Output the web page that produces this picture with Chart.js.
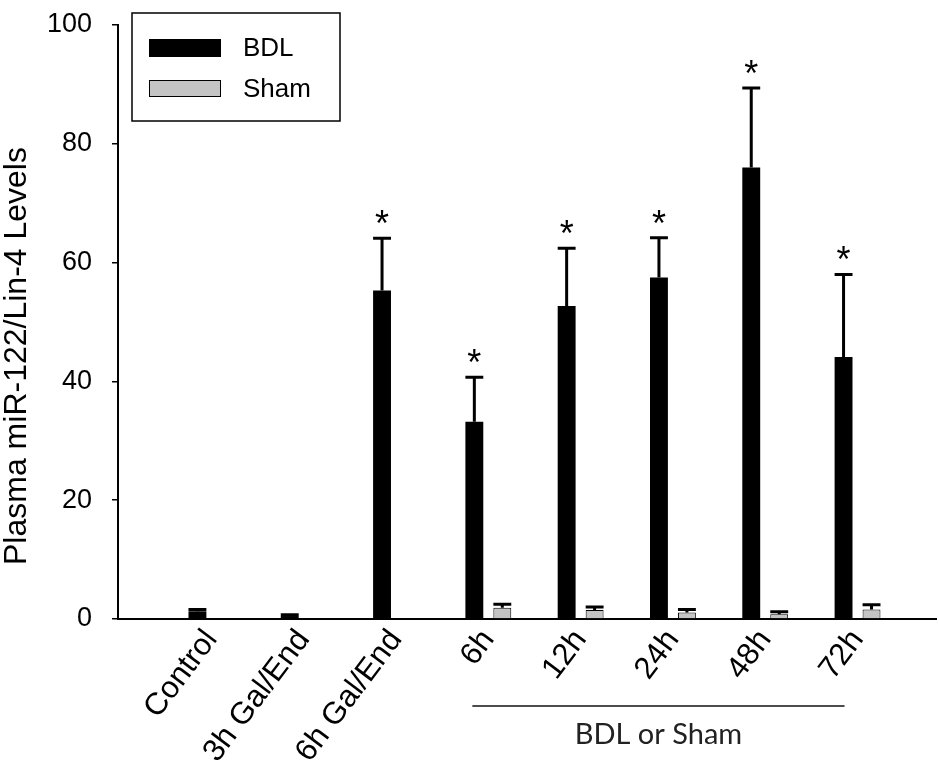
<!DOCTYPE html>
<html>
<head>
<meta charset="utf-8">
<script src="https://cdn.jsdelivr.net/npm/chart.js@4.4.1/dist/chart.umd.min.js"></script>
<style>
  html, body { margin: 0; padding: 0; background: #fff; }
</style>
</head>
<body>
<canvas id="chart" width="939" height="772"></canvas>
<script>
// group labels along the x axis
const groups = ["Control", "3h Gal/End", "6h Gal/End", "6h", "12h", "24h", "48h", "72h"];

// BDL means and upper error
const bdlMean = [1.3, 0.5, 55.3, 33.2, 52.7, 57.5, 76.0, 44.1];
const bdlErr = [0.3, 0.2, 8.8, 7.5, 9.7, 6.7, 13.4, 13.9];
const bdlSig = [false, false, true, true, true, true, true, true];

// Sham only exists for the timed groups
const shamMean = [null, null, null, 1.9, 1.5, 1.1, 0.8, 1.6];
const shamErr = [null, null, null, 0.6, 0.5, 0.5, 0.4, 0.8];

const yTicks = [0, 20, 40, 60, 80, 100];
const yTitle = "Plasma miR-122/Lin-4 Levels";

const shamColor = "#c4c4c4";
const fontFamily = '"Liberation Sans", Arial, sans-serif';

const extras = {
  id: "extras",
  afterDatasetsDraw(chart) {
    const { ctx, scales: { y } } = chart;
    const errs = [bdlErr, shamErr];
    ctx.save();
    chart.data.datasets.forEach((ds, di) => {
      const meta = chart.getDatasetMeta(di);
      meta.data.forEach((bar, i) => {
        const v = ds.data[i].y;
        const e = errs[di][i];
        if (v == null || e == null) return;
        const top = y.getPixelForValue(v + e);
        ctx.strokeStyle = "#000";
        ctx.lineWidth = 3;
        ctx.beginPath();
        ctx.moveTo(bar.x, bar.y);
        ctx.lineTo(bar.x, top);
        ctx.moveTo(bar.x - bar.width / 2, top);
        ctx.lineTo(bar.x + bar.width / 2, top);
        ctx.stroke();
        if (di === 0 && bdlSig[i]) {
          ctx.fillStyle = "#000";
          ctx.font = "36px " + fontFamily;
          ctx.textAlign = "center";
          ctx.textBaseline = "alphabetic";
          ctx.fillText("*", bar.x, top - 2);
        }
      });
    });
    ctx.restore();
  },
  afterDraw(chart) {
    const { ctx, chartArea, scales: { x } } = chart;
    ctx.save();

    // y title, sitting a little below the axis middle as in the original
    ctx.fillStyle = "#000";
    ctx.font = "32px " + fontFamily;
    ctx.textAlign = "center";
    ctx.textBaseline = "middle";
    ctx.translate(17, (chartArea.top + chartArea.bottom) / 2 + 34);
    ctx.rotate(-Math.PI / 2);
    ctx.fillText(yTitle, 0, 0);
    ctx.setTransform(1, 0, 0, 1, 0, 0);

    // legend box inside the plot
    const lx = chartArea.left + 14, ly = chartArea.top - 12;
    ctx.strokeStyle = "#000";
    ctx.lineWidth = 1.5;
    ctx.strokeRect(lx, ly, 208, 108);
    ctx.fillStyle = "#000";
    ctx.fillRect(lx + 17, ly + 26, 72, 18);
    ctx.fillStyle = shamColor;
    ctx.fillRect(lx + 17, ly + 67, 72, 17);
    ctx.lineWidth = 1;
    ctx.strokeRect(lx + 17.5, ly + 67.5, 71, 16);
    ctx.fillStyle = "#000";
    ctx.font = "26px " + fontFamily;
    ctx.textAlign = "left";
    ctx.textBaseline = "middle";
    ctx.fillText("BDL", lx + 111, ly + 36);
    ctx.fillText("Sham", lx + 111, ly + 77);

    // bracket under the BDL / Sham time points
    const x0 = x.getPixelForValue(3) - 16;
    const x1 = x.getPixelForValue(7) - 13;
    const by = chartArea.bottom + 87;
    ctx.strokeStyle = "#111";
    ctx.lineWidth = 1.5;
    ctx.beginPath();
    ctx.moveTo(x0, by);
    ctx.lineTo(x1, by);
    ctx.stroke();
    ctx.fillStyle = "#222";
    ctx.font = '29px Lato, "Open Sans", sans-serif';
    ctx.textAlign = "center";
    ctx.fillText("BDL or Sham", (x0 + x1) / 2, by + 29);
    ctx.restore();
  }
};

new Chart(document.getElementById("chart"), {
  type: "bar",
  data: {
    datasets: [
      {
        label: "BDL",
        data: bdlMean.map((v, i) => ({ x: i, y: v })),
        backgroundColor: "#000",
        borderColor: "#000",
        borderWidth: 0,
        categoryPercentage: 0.606,
        barPercentage: 0.64
      },
      {
        label: "Sham",
        data: shamMean.map((v, i) => ({ x: i, y: v })),
        backgroundColor: shamColor,
        borderColor: "#000",
        borderWidth: 1,
        categoryPercentage: 0.606,
        barPercentage: 0.64
      }
    ]
  },
  options: {
    responsive: false,
    animation: false,
    layout: { padding: { top: 25, right: 3, left: 0, bottom: 0 } },
    plugins: {
      legend: { display: false },
      tooltip: { enabled: false }
    },
    scales: {
      x: {
        type: "linear",
        min: -1.012,
        max: 7.85,
        offset: false,
        grid: { display: false, offset: false },
        border: { display: true, color: "#000", width: 2 },
        afterBuildTicks: axis => { axis.ticks = groups.map((g, i) => ({ value: i })); },
        afterFit: scale => {
          scale.height = 153;
          scale.paddingLeft = 0;
          scale.paddingRight = 0;
        },
        ticks: {
          autoSkip: false,
          minRotation: 53,
          maxRotation: 53,
          padding: -4,
          color: "#000",
          font: { family: fontFamily, size: 31 },
          callback: v => groups[v] ?? ""
        }
      },
      y: {
        min: 0,
        max: 100,
        afterBuildTicks: axis => { axis.ticks = yTicks.map(v => ({ value: v })); },
        afterFit: scale => {
          scale.width = 118;
          scale.paddingTop = 0;
          scale.paddingBottom = 0;
        },
        grid: { display: true, drawOnChartArea: false, drawTicks: true, tickLength: 6, color: "#000", lineWidth: 1.5 },
        border: { display: true, color: "#000", width: 2 },
        ticks: {
          padding: 20,
          color: "#000",
          font: { family: fontFamily, size: 27 }
        }
      }
    }
  },
  plugins: [extras]
});
</script>
</body>
</html>
